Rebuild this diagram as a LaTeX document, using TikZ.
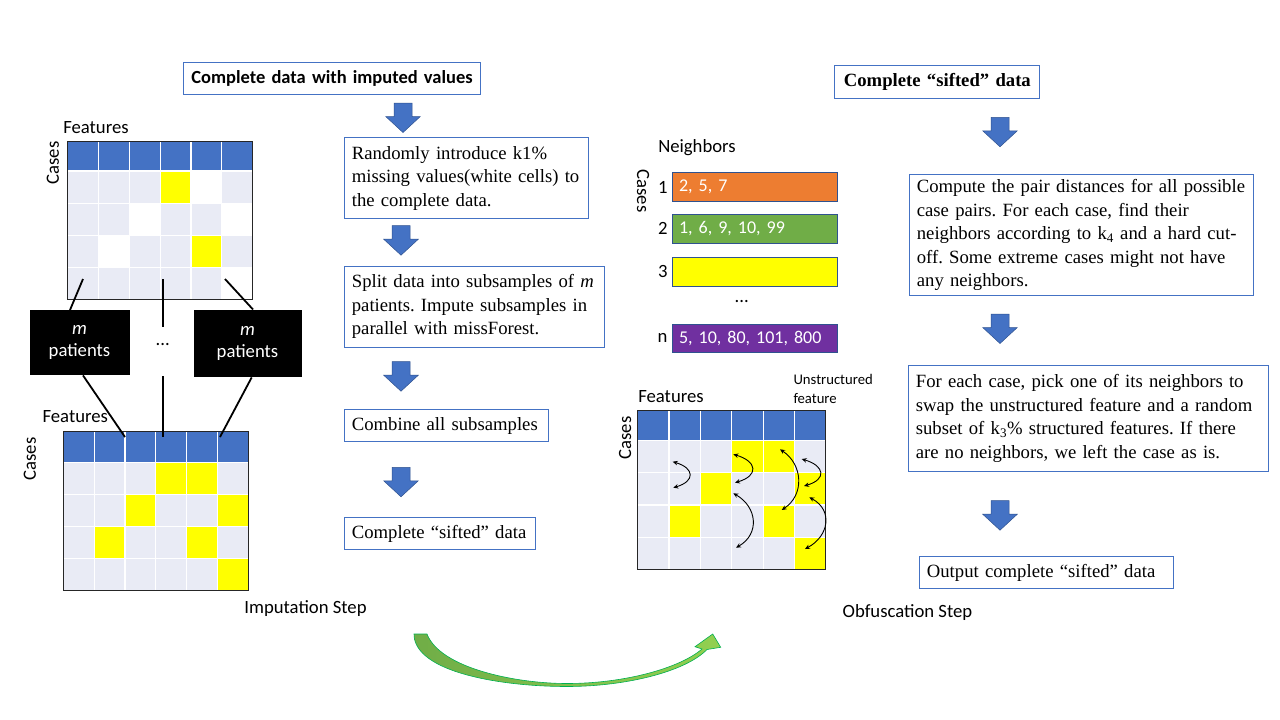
\documentclass[tikz,border=0pt]{standalone}
\usepackage{fontspec}
\setmainfont{Liberation Serif}
\newfontfamily\calfont{Carlito}
\usetikzlibrary{arrows.meta,calc}
\frenchspacing
\definecolor{hdrblue}{HTML}{4472C4}
\definecolor{cellgray}{HTML}{E9EBF5}
\definecolor{boxblue}{HTML}{4472C4}
\definecolor{arrowedge}{HTML}{2F528F}
\definecolor{barorange}{HTML}{ED7D31}
\definecolor{bargreen}{HTML}{70AD47}
\definecolor{baryellow}{HTML}{FFFF00}
\definecolor{barpurple}{HTML}{7030A0}
\definecolor{gdark}{HTML}{70AD47}
\definecolor{glight}{HTML}{92D050}
\definecolor{gedge}{HTML}{00B050}
\definecolor{yell}{HTML}{FFFF00}
\tikzset{
  tbox/.style={draw=boxblue, line width=1.1pt, fill=white, anchor=north west,
    inner xsep=7pt, inner ysep=0pt, align=left, font=\frenchspacing\fontsize{18.7}{23.5}\selectfont},
  calt/.style={font=\calfont\fontsize{18.7}{22.5}\selectfont},
  smallcal/.style={font=\calfont\fontsize{14.7}{18.6}\selectfont},
  blackbox/.style={fill=black, text=white, anchor=north west, align=center, calt, inner sep=0pt},
  nbar/.style={draw=arrowedge, line width=0.8pt, anchor=north west, minimum width=165.6pt,
    minimum height=28.7pt, inner xsep=7pt, inner ysep=0pt, text width=151.6pt, align=left, text=white,
    font=\calfont\frenchspacing\fontsize{18}{22}\selectfont},
  conn/.style={line width=1.8pt, black},
  swaparrow/.style={{Stealth[length=5pt,width=4.5pt]}-{Stealth[length=5pt,width=4.5pt]}, line width=0.9pt},
}
\newcommand\datagrid[6]{%
  \fill[hdrblue] (#1,#2) rectangle ++(6*#3,#4);
  \fill[cellgray] (#1,#2+#4) rectangle ++(6*#3,4*#5);
  \foreach \c/\r/\k in {#6} \fill[\k] (#1+\c*#3,#2+#4+\r*#5) rectangle ++(#3,#5);
  \foreach \i in {1,...,5} \draw[white, line width=1.2pt] (#1+\i*#3,#2) -- ++(0,#4+4*#5);
  \foreach \j in {0,...,3} \draw[white, line width=1.2pt] (#1,#2+#4+\j*#5) -- ++(6*#3,0);
  \draw[black!85, line width=1pt] (#1,#2) rectangle ++(6*#3,#4+4*#5);
}
\newcommand\blockarrow[2]{%
  \fill[boxblue, draw=arrowedge, line width=0.5pt] (#1-9,#2) -- (#1+9,#2) -- (#1+9,#2+13.5)
   -- (#1+17.3,#2+13.5) -- (#1,#2+29.5) -- (#1-17.3,#2+13.5) -- (#1-9,#2+13.5) -- cycle;}
\begin{document}
\begin{tikzpicture}[x=1pt,y=-1pt]
\useasboundingbox (0,0) rectangle (1280,720);
\fill[white] (0,0) rectangle (1280,720);

% ---------- left: grids ----------
\datagrid{67.7}{141}{30.83}{30}{32.1}{3/0/yell,4/2/yell,4/0/white,2/1/white,5/1/white,1/2/white,5/3/white}
\datagrid{63.3}{431.7}{30.83}{30.6}{32.1}{3/0/yell,4/0/yell,2/1/yell,5/1/yell,1/2/yell,4/2/yell,5/3/yell}
\node[calt] (featTL) at (96,128) {Features};
\node[calt, rotate=90] (casesTL) at (53,163) {Cases};
\node[calt] (featBL) at (75.3,417) {Features};
\node[calt, rotate=90] (casesBL) at (30,459) {Cases};

\node[blackbox, minimum width=100pt, minimum height=65pt] (mL) at (29.3,310) {\textit{m}\\patients};
\node[blackbox, minimum width=108pt, minimum height=67.5pt] (mR) at (193.3,309.5) {\textit{m}\\patients};
\node[calt] (mdots) at (162.7,345) {...};

\coordinate (tl1) at (83,279);
\coordinate (tl2) at (162.7,279);
\coordinate (tl3) at (225,279);
\coordinate (bl1) at (125,437);
\coordinate (bl2) at (162.7,437);
\coordinate (bl3) at (220,437);
\coordinate (m1) at (162.7,327);
\coordinate (m2) at (162.7,376);
\draw[conn] (tl1) -- ($(mL.north west)+(40.7,0)$);
\draw[conn] ($(mL.south west)+(53.7,0)$) -- (bl1);
\draw[conn] (tl2) -- (m1);
\draw[conn] (m2) -- (bl2);
\draw[conn] (tl3) -- ($(mR.north west)+(59.7,0)$);
\draw[conn] ($(mR.south west)+(58.4,0)$) -- (bl3);

\node[calt] (impstep) at (305.5,609) {Imputation Step};

% ---------- middle flow ----------
\node[tbox, text width=283pt, minimum height=32.3pt, align=center, font=\calfont\bfseries\fontsize{18.5}{22}\selectfont] (t1) at (183,62) {Complete data with imputed values};
\blockarrow{403}{103}
\node[tbox, text width=229.4pt, minimum height=81pt] (b2) at (344.3,137.3) {Randomly introduce k1\%\\missing values(white cells) to\\the complete data.};
\blockarrow{401}{225.7}
\node[tbox, text width=246pt, minimum height=81pt] (b3) at (344.3,265.7) {Split data into subsamples of \textit{m}\\patients. Impute subsamples in\\parallel with missForest.};
\blockarrow{401}{361.7}
\node[tbox, text width=190pt, minimum height=32pt] (b4) at (344.3,409) {Combine all subsamples};
\blockarrow{401}{467.3}
\node[tbox, text width=176.7pt, minimum height=32pt] (b5) at (344.3,517.3) {Complete “sifted” data};

% ---------- neighbors ----------
\node[calt] (nbh) at (697,148) {Neighbors};
\node[calt, rotate=-90] (casesN) at (643,191) {Cases};
\node[nbar, fill=barorange] (n1) at (671.7,172.3) {2, 5, 7};
\node[nbar, fill=bargreen] (n2) at (671.7,213.8) {1, 6, 9, 10, 99};
\node[nbar, fill=baryellow] (n3) at (671.7,256.8) {};
\node[calt] (ndots) at (741.7,302) {...};
\node[nbar, fill=barpurple] (nn) at (671.7,323.5) {5, 10, 80, 101, 800};
\node[calt, anchor=east, inner sep=0pt, xshift=-4pt] (l1) at (n1.west) {1};
\node[calt, anchor=east, inner sep=0pt, xshift=-4pt] (l2) at (n2.west) {2};
\node[calt, anchor=east, inner sep=0pt, xshift=-4pt] (l3) at (n3.west) {3};
\node[calt, anchor=east, inner sep=0pt, xshift=-4pt] (ln) at (nn.west) {n};

% ---------- right grid ----------
\datagrid{637.7}{410.7}{31.38}{30}{32.15}{3/0/yell,4/0/yell,2/1/yell,5/1/yell,1/2/yell,4/2/yell,5/3/yell}
\node[calt] (featR) at (671,397) {Features};
\node[calt, rotate=90] (casesR) at (625,438) {Cases};
\node[smallcal, anchor=west, align=left, inner sep=0pt] (unstr) at (793.3,389) {Unstructured\\feature};
\draw[swaparrow] (672.7,461.7) .. controls (694.7,468.2) and (695.3,481.2) .. (673.3,487.7);
\draw[swaparrow] (733.3,454.3) .. controls (757.3,461.4) and (759,475.6) .. (735,482.7);
\draw[swaparrow] (780,449.3) .. controls (803,464.5) and (804.7,494.8) .. (781.7,510);
\draw[swaparrow] (801.7,459) .. controls (824.7,465.8) and (827,479.3) .. (804,486);
\draw[swaparrow] (733.3,493.3) .. controls (757.3,506.9) and (760,534.1) .. (736,547.7);
\draw[swaparrow] (809.3,497.3) .. controls (833.3,510.2) and (829,536.1) .. (805,549);

% ---------- right flow ----------
\node[tbox, text width=191pt, minimum height=33.3pt, align=center, font=\bfseries\fontsize{18.7}{22}\selectfont] (rt) at (834.3,65) {Complete “sifted” data};
\blockarrow{1000}{117.3}
\node[tbox, text width=330pt, minimum height=120.7pt] (r2) at (909.3,174.3) {Compute the pair distances for all possible\\case pairs. For each case, find their\\neighbors according to k\textsubscript{4} and a hard cut-\\off. Some extreme cases might not have\\any neighbors.};
\blockarrow{1000}{314}
\node[tbox, text width=346pt, minimum height=105.7pt] (r3) at (908.3,365) {For each case, pick one of its neighbors to\\swap the unstructured feature and a random\\subset of k\textsubscript{3}\% structured features. If there\\are no neighbors, we left the case as is.};
\blockarrow{1000}{500.7}
\node[tbox, text width=240pt, minimum height=32.3pt] (r4) at (919.3,556) {Output complete “sifted” data};

\node[calt] (obfstep) at (907.5,613) {Obfuscation Step};

% ---------- green curved arrow ----------
\shade[left color=gdark, right color=glight, draw=gedge, line width=0.6pt]
  (414,634) -- (427,634)
  .. controls (440,668) and (515,683.5) .. (567,683.5)
  .. controls (625,683.5) and (680,668) .. (702,649)
  -- (695,646.7) -- (712.7,634) -- (720.7,647.3) -- (707,649.5)
  .. controls (685,672) and (625,686.5) .. (567,686.5)
  .. controls (500,686.5) and (414,672) .. (414,634) -- cycle;
\end{tikzpicture}
\end{document}
